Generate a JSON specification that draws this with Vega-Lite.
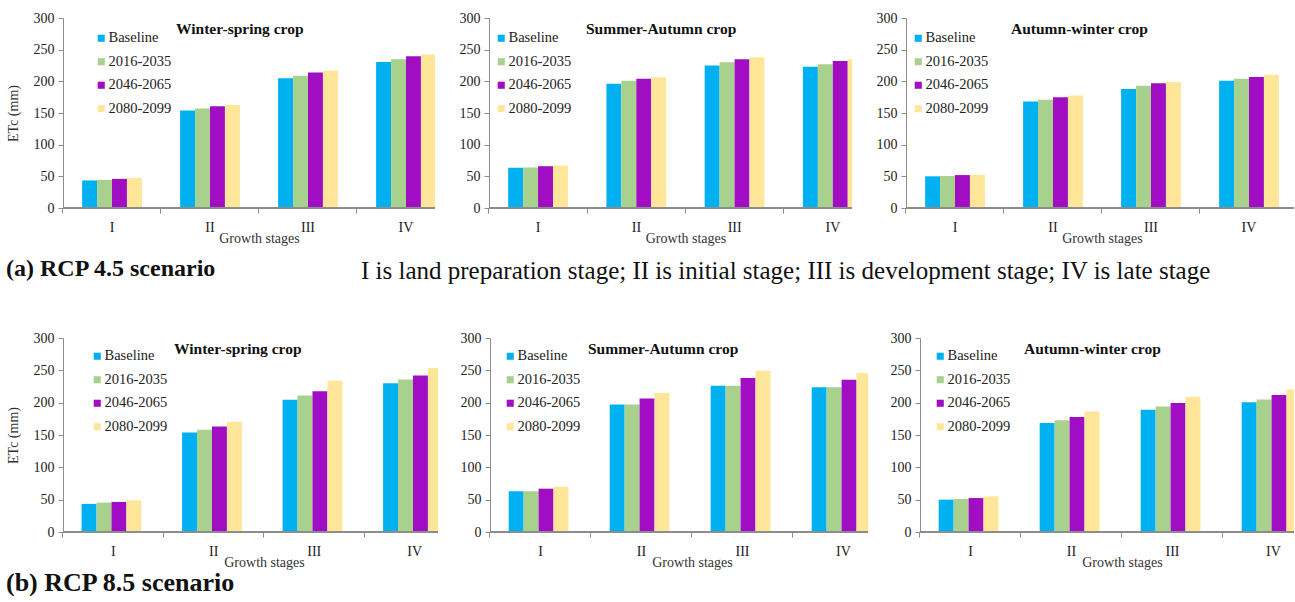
{
  "$schema": "https://vega.github.io/schema/vega-lite/v6.json",
  "padding": {"left": 6, "top": 11, "right": 0, "bottom": 0},
  "background": "white",
  "config": {
    "font": "Liberation Serif",
    "view": {"stroke": null},
    "axis": {"labelFont": "Liberation Serif", "titleFont": "Liberation Serif", "labelFontSize": 14, "titleFontSize": 14, "titleFontWeight": "normal", "labelColor": "#222", "titleColor": "#333", "grid": false, "domainColor": "#8c8c8c", "tickColor": "#8c8c8c"},
    "legend": {"orient": "none", "title": null, "padding": 0, "symbolType": "square", "symbolSize": 50, "symbolStrokeWidth": 0, "labelFont": "Liberation Serif", "labelFontSize": 14.5, "labelColor": "#222", "rowPadding": 8.5, "labelOffset": 0},
    "title": {"font": "Liberation Serif", "fontSize": 15.5, "fontWeight": "bold", "color": "#111"}
  },
  "datasets": {
    "d45": [
      {"crop": "Winter-spring", "stage": "I", "period": "Baseline", "etc": 43.5},
      {"crop": "Winter-spring", "stage": "I", "period": "2016-2035", "etc": 44.5},
      {"crop": "Winter-spring", "stage": "I", "period": "2046-2065", "etc": 46},
      {"crop": "Winter-spring", "stage": "I", "period": "2080-2099", "etc": 47.5},
      {"crop": "Winter-spring", "stage": "II", "period": "Baseline", "etc": 154},
      {"crop": "Winter-spring", "stage": "II", "period": "2016-2035", "etc": 157},
      {"crop": "Winter-spring", "stage": "II", "period": "2046-2065", "etc": 160.5},
      {"crop": "Winter-spring", "stage": "II", "period": "2080-2099", "etc": 162.5},
      {"crop": "Winter-spring", "stage": "III", "period": "Baseline", "etc": 205},
      {"crop": "Winter-spring", "stage": "III", "period": "2016-2035", "etc": 209},
      {"crop": "Winter-spring", "stage": "III", "period": "2046-2065", "etc": 214},
      {"crop": "Winter-spring", "stage": "III", "period": "2080-2099", "etc": 217},
      {"crop": "Winter-spring", "stage": "IV", "period": "Baseline", "etc": 230.5},
      {"crop": "Winter-spring", "stage": "IV", "period": "2016-2035", "etc": 235},
      {"crop": "Winter-spring", "stage": "IV", "period": "2046-2065", "etc": 239.5},
      {"crop": "Winter-spring", "stage": "IV", "period": "2080-2099", "etc": 242.5},
      {"crop": "Summer-Autumn", "stage": "I", "period": "Baseline", "etc": 63.5},
      {"crop": "Summer-Autumn", "stage": "I", "period": "2016-2035", "etc": 64},
      {"crop": "Summer-Autumn", "stage": "I", "period": "2046-2065", "etc": 66},
      {"crop": "Summer-Autumn", "stage": "I", "period": "2080-2099", "etc": 67},
      {"crop": "Summer-Autumn", "stage": "II", "period": "Baseline", "etc": 196},
      {"crop": "Summer-Autumn", "stage": "II", "period": "2016-2035", "etc": 201},
      {"crop": "Summer-Autumn", "stage": "II", "period": "2046-2065", "etc": 204},
      {"crop": "Summer-Autumn", "stage": "II", "period": "2080-2099", "etc": 206.5},
      {"crop": "Summer-Autumn", "stage": "III", "period": "Baseline", "etc": 225},
      {"crop": "Summer-Autumn", "stage": "III", "period": "2016-2035", "etc": 230},
      {"crop": "Summer-Autumn", "stage": "III", "period": "2046-2065", "etc": 235},
      {"crop": "Summer-Autumn", "stage": "III", "period": "2080-2099", "etc": 238},
      {"crop": "Summer-Autumn", "stage": "IV", "period": "Baseline", "etc": 223},
      {"crop": "Summer-Autumn", "stage": "IV", "period": "2016-2035", "etc": 227},
      {"crop": "Summer-Autumn", "stage": "IV", "period": "2046-2065", "etc": 232},
      {"crop": "Summer-Autumn", "stage": "IV", "period": "2080-2099", "etc": 235},
      {"crop": "Autumn-winter", "stage": "I", "period": "Baseline", "etc": 50},
      {"crop": "Autumn-winter", "stage": "I", "period": "2016-2035", "etc": 50.5},
      {"crop": "Autumn-winter", "stage": "I", "period": "2046-2065", "etc": 52},
      {"crop": "Autumn-winter", "stage": "I", "period": "2080-2099", "etc": 52.5},
      {"crop": "Autumn-winter", "stage": "II", "period": "Baseline", "etc": 168},
      {"crop": "Autumn-winter", "stage": "II", "period": "2016-2035", "etc": 171},
      {"crop": "Autumn-winter", "stage": "II", "period": "2046-2065", "etc": 175},
      {"crop": "Autumn-winter", "stage": "II", "period": "2080-2099", "etc": 177.5},
      {"crop": "Autumn-winter", "stage": "III", "period": "Baseline", "etc": 188},
      {"crop": "Autumn-winter", "stage": "III", "period": "2016-2035", "etc": 193},
      {"crop": "Autumn-winter", "stage": "III", "period": "2046-2065", "etc": 197},
      {"crop": "Autumn-winter", "stage": "III", "period": "2080-2099", "etc": 199},
      {"crop": "Autumn-winter", "stage": "IV", "period": "Baseline", "etc": 201},
      {"crop": "Autumn-winter", "stage": "IV", "period": "2016-2035", "etc": 204},
      {"crop": "Autumn-winter", "stage": "IV", "period": "2046-2065", "etc": 207},
      {"crop": "Autumn-winter", "stage": "IV", "period": "2080-2099", "etc": 210.5}
    ],
    "d85": [
      {"crop": "Winter-spring", "stage": "I", "period": "Baseline", "etc": 43.5},
      {"crop": "Winter-spring", "stage": "I", "period": "2016-2035", "etc": 45.5},
      {"crop": "Winter-spring", "stage": "I", "period": "2046-2065", "etc": 46.5},
      {"crop": "Winter-spring", "stage": "I", "period": "2080-2099", "etc": 49},
      {"crop": "Winter-spring", "stage": "II", "period": "Baseline", "etc": 154},
      {"crop": "Winter-spring", "stage": "II", "period": "2016-2035", "etc": 158},
      {"crop": "Winter-spring", "stage": "II", "period": "2046-2065", "etc": 163},
      {"crop": "Winter-spring", "stage": "II", "period": "2080-2099", "etc": 170.5},
      {"crop": "Winter-spring", "stage": "III", "period": "Baseline", "etc": 204.5},
      {"crop": "Winter-spring", "stage": "III", "period": "2016-2035", "etc": 211},
      {"crop": "Winter-spring", "stage": "III", "period": "2046-2065", "etc": 217.5},
      {"crop": "Winter-spring", "stage": "III", "period": "2080-2099", "etc": 234},
      {"crop": "Winter-spring", "stage": "IV", "period": "Baseline", "etc": 230},
      {"crop": "Winter-spring", "stage": "IV", "period": "2016-2035", "etc": 236},
      {"crop": "Winter-spring", "stage": "IV", "period": "2046-2065", "etc": 242},
      {"crop": "Winter-spring", "stage": "IV", "period": "2080-2099", "etc": 253.5},
      {"crop": "Summer-Autumn", "stage": "I", "period": "Baseline", "etc": 63},
      {"crop": "Summer-Autumn", "stage": "I", "period": "2016-2035", "etc": 63},
      {"crop": "Summer-Autumn", "stage": "I", "period": "2046-2065", "etc": 67},
      {"crop": "Summer-Autumn", "stage": "I", "period": "2080-2099", "etc": 70},
      {"crop": "Summer-Autumn", "stage": "II", "period": "Baseline", "etc": 197},
      {"crop": "Summer-Autumn", "stage": "II", "period": "2016-2035", "etc": 197},
      {"crop": "Summer-Autumn", "stage": "II", "period": "2046-2065", "etc": 206.5},
      {"crop": "Summer-Autumn", "stage": "II", "period": "2080-2099", "etc": 215},
      {"crop": "Summer-Autumn", "stage": "III", "period": "Baseline", "etc": 226},
      {"crop": "Summer-Autumn", "stage": "III", "period": "2016-2035", "etc": 226},
      {"crop": "Summer-Autumn", "stage": "III", "period": "2046-2065", "etc": 238},
      {"crop": "Summer-Autumn", "stage": "III", "period": "2080-2099", "etc": 249.5},
      {"crop": "Summer-Autumn", "stage": "IV", "period": "Baseline", "etc": 224},
      {"crop": "Summer-Autumn", "stage": "IV", "period": "2016-2035", "etc": 224},
      {"crop": "Summer-Autumn", "stage": "IV", "period": "2046-2065", "etc": 235.5},
      {"crop": "Summer-Autumn", "stage": "IV", "period": "2080-2099", "etc": 246},
      {"crop": "Autumn-winter", "stage": "I", "period": "Baseline", "etc": 50},
      {"crop": "Autumn-winter", "stage": "I", "period": "2016-2035", "etc": 51},
      {"crop": "Autumn-winter", "stage": "I", "period": "2046-2065", "etc": 52.5},
      {"crop": "Autumn-winter", "stage": "I", "period": "2080-2099", "etc": 55},
      {"crop": "Autumn-winter", "stage": "II", "period": "Baseline", "etc": 168.5},
      {"crop": "Autumn-winter", "stage": "II", "period": "2016-2035", "etc": 173},
      {"crop": "Autumn-winter", "stage": "II", "period": "2046-2065", "etc": 178},
      {"crop": "Autumn-winter", "stage": "II", "period": "2080-2099", "etc": 186.5},
      {"crop": "Autumn-winter", "stage": "III", "period": "Baseline", "etc": 189},
      {"crop": "Autumn-winter", "stage": "III", "period": "2016-2035", "etc": 194},
      {"crop": "Autumn-winter", "stage": "III", "period": "2046-2065", "etc": 199.5},
      {"crop": "Autumn-winter", "stage": "III", "period": "2080-2099", "etc": 209},
      {"crop": "Autumn-winter", "stage": "IV", "period": "Baseline", "etc": 200.5},
      {"crop": "Autumn-winter", "stage": "IV", "period": "2016-2035", "etc": 205},
      {"crop": "Autumn-winter", "stage": "IV", "period": "2046-2065", "etc": 212},
      {"crop": "Autumn-winter", "stage": "IV", "period": "2080-2099", "etc": 220.5}
    ]
  },
  "title": {"text": "(b) RCP 8.5 scenario", "orient": "bottom", "anchor": "start", "fontSize": 26, "fontWeight": "bold", "offset": 1},
  "resolve": {"scale": {"color": "independent", "x": "independent", "y": "independent"}, "legend": {"color": "independent"}},
  "spacing": 47,
  "vconcat": [
    {
      "title": {"text": "I is land preparation stage; II is initial stage; III is development stage; IV is late stage", "orient": "bottom", "anchor": "start", "dx": 355, "fontSize": 25, "fontWeight": "normal", "offset": -22},
      "resolve": {"scale": {"color": "independent", "x": "independent", "y": "independent"}, "legend": {"color": "independent"}},
      "vconcat": [
        {
          "title": {"text": "(a)  RCP 4.5 scenario", "orient": "bottom", "anchor": "start", "fontSize": 24, "fontWeight": "bold", "offset": 12},
          "bounds": "flush",
          "spacing": 54,
          "resolve": {"scale": {"color": "independent", "x": "independent", "y": "independent"}, "legend": {"color": "independent"}},
          "hconcat": [
            {
              "width": 372, "height": 190,
              "data": {"name": "d45"},
              "transform": [{"filter": "datum.crop === 'Winter-spring'"}],
              "title": {"text": "Winter-spring crop", "anchor": "start", "frame": "group", "dx": 113, "dy": 22, "offset": -11, "baseline": "middle"},
              "layer": [
                {"mark": {"type": "bar", "clip": true},
                 "encoding": {
                   "x": {"field": "stage", "type": "nominal", "scale": {"domain": ["I", "II", "III", "IV"], "range": [0, 392], "paddingInner": 0.39, "paddingOuter": 0.195}, "axis": {"title": "Growth stages", "labelAngle": 0, "domain": false, "ticks": true, "tickSize": 5, "bandPosition": -0.32, "labelPadding": 7, "titlePadding": -3}},
                   "xOffset": {"field": "period", "type": "nominal", "scale": {"domain": ["Baseline", "2016-2035", "2046-2065", "2080-2099"], "paddingInner": 0, "paddingOuter": 0}},
                   "y": {"field": "etc", "type": "quantitative", "scale": {"domain": [0, 300]}, "axis": {"values": [0, 50, 100, 150, 200, 250, 300], "title": "ETc (mm)", "tickSize": 5, "labelPadding": 4, "titlePadding": 13}},
                   "color": {"field": "period", "type": "nominal", "scale": {"domain": ["Baseline", "2016-2035", "2046-2065", "2080-2099"], "range": ["#00B0F0", "#A9D18E", "#A10DC2", "#FFE699"]}, "legend": {"orient": "none", "legendX": 31, "legendY": 13, "labelFont": "Liberation Serif"}}
                 }},
                {"mark": {"type": "rule", "color": "#8c8c8c"}, "encoding": {"y": {"datum": 0, "type": "quantitative", "scale": {"domain": [0, 300]}, "axis": {"values": [0, 50, 100, 150, 200, 250, 300], "title": "ETc (mm)", "tickSize": 5, "labelPadding": 4, "titlePadding": 13}}}}
              ]
            },
            {
              "width": 363, "height": 190,
              "data": {"name": "d45"},
              "transform": [{"filter": "datum.crop === 'Summer-Autumn'"}],
              "title": {"text": "Summer-Autumn crop", "anchor": "start", "frame": "group", "dx": 97, "dy": 22, "offset": -11, "baseline": "middle"},
              "layer": [
                {"mark": {"type": "bar", "clip": true},
                 "encoding": {
                   "x": {"field": "stage", "type": "nominal", "scale": {"domain": ["I", "II", "III", "IV"], "range": [0, 393], "paddingInner": 0.39, "paddingOuter": 0.195}, "axis": {"title": "Growth stages", "labelAngle": 0, "domain": false, "ticks": true, "tickSize": 5, "bandPosition": -0.32, "labelPadding": 7, "titlePadding": -3}},
                   "xOffset": {"field": "period", "type": "nominal", "scale": {"domain": ["Baseline", "2016-2035", "2046-2065", "2080-2099"], "paddingInner": 0, "paddingOuter": 0}},
                   "y": {"field": "etc", "type": "quantitative", "scale": {"domain": [0, 300]}, "axis": {"values": [0, 50, 100, 150, 200, 250, 300], "title": null, "tickSize": 5, "labelPadding": 4}},
                   "color": {"field": "period", "type": "nominal", "scale": {"domain": ["Baseline", "2016-2035", "2046-2065", "2080-2099"], "range": ["#00B0F0", "#A9D18E", "#A10DC2", "#FFE699"]}, "legend": {"orient": "none", "legendX": 5, "legendY": 13, "labelFont": "Liberation Serif"}}
                 }},
                {"mark": {"type": "rule", "color": "#8c8c8c"}, "encoding": {"y": {"datum": 0, "type": "quantitative", "scale": {"domain": [0, 300]}, "axis": {"values": [0, 50, 100, 150, 200, 250, 300], "title": null, "tickSize": 5, "labelPadding": 4}}}}
              ]
            },
            {
              "width": 388, "height": 190,
              "data": {"name": "d45"},
              "transform": [{"filter": "datum.crop === 'Autumn-winter'"}],
              "title": {"text": "Autumn-winter crop", "anchor": "start", "frame": "group", "dx": 105, "dy": 22, "offset": -11, "baseline": "middle"},
              "layer": [
                {"mark": {"type": "bar", "clip": true},
                 "encoding": {
                   "x": {"field": "stage", "type": "nominal", "scale": {"domain": ["I", "II", "III", "IV"], "range": [0, 392], "paddingInner": 0.39, "paddingOuter": 0.195}, "axis": {"title": "Growth stages", "labelAngle": 0, "domain": false, "ticks": true, "tickSize": 5, "bandPosition": -0.32, "labelPadding": 7, "titlePadding": -3}},
                   "xOffset": {"field": "period", "type": "nominal", "scale": {"domain": ["Baseline", "2016-2035", "2046-2065", "2080-2099"], "paddingInner": 0, "paddingOuter": 0}},
                   "y": {"field": "etc", "type": "quantitative", "scale": {"domain": [0, 300]}, "axis": {"values": [0, 50, 100, 150, 200, 250, 300], "title": null, "tickSize": 5, "labelPadding": 4}},
                   "color": {"field": "period", "type": "nominal", "scale": {"domain": ["Baseline", "2016-2035", "2046-2065", "2080-2099"], "range": ["#00B0F0", "#A9D18E", "#A10DC2", "#FFE699"]}, "legend": {"orient": "none", "legendX": 5, "legendY": 13, "labelFont": "Liberation Serif"}}
                 }},
                {"mark": {"type": "rule", "color": "#8c8c8c"}, "encoding": {"y": {"datum": 0, "type": "quantitative", "scale": {"domain": [0, 300]}, "axis": {"values": [0, 50, 100, 150, 200, 250, 300], "title": null, "tickSize": 5, "labelPadding": 4}}}}
              ]
            }
          ]
        }
      ]
    },
    {
      "bounds": "flush",
      "spacing": 52,
      "resolve": {"scale": {"color": "independent", "x": "independent", "y": "independent"}, "legend": {"color": "independent"}},
      "hconcat": [
        {
          "width": 375, "height": 194,
          "data": {"name": "d85"},
          "transform": [{"filter": "datum.crop === 'Winter-spring'"}],
          "title": {"text": "Winter-spring crop", "anchor": "start", "frame": "group", "dx": 111, "dy": 22, "offset": -11, "baseline": "middle"},
          "layer": [
            {"mark": {"type": "bar", "clip": true},
             "encoding": {
               "x": {"field": "stage", "type": "nominal", "scale": {"domain": ["I", "II", "III", "IV"], "range": [0, 402], "paddingInner": 0.37, "paddingOuter": 0.185}, "axis": {"title": "Growth stages", "labelAngle": 0, "domain": false, "ticks": true, "tickSize": 5, "bandPosition": -0.294, "labelPadding": 7, "titlePadding": -3}},
               "xOffset": {"field": "period", "type": "nominal", "scale": {"domain": ["Baseline", "2016-2035", "2046-2065", "2080-2099"], "paddingInner": 0, "paddingOuter": 0}},
               "y": {"field": "etc", "type": "quantitative", "scale": {"domain": [0, 300]}, "axis": {"values": [0, 50, 100, 150, 200, 250, 300], "title": "ETc (mm)", "tickSize": 5, "labelPadding": 4, "titlePadding": 13}},
               "color": {"field": "period", "type": "nominal", "scale": {"domain": ["Baseline", "2016-2035", "2046-2065", "2080-2099"], "range": ["#00B0F0", "#A9D18E", "#A10DC2", "#FFE699"]}, "legend": {"orient": "none", "legendX": 27, "legendY": 11, "labelFont": "Liberation Serif"}}
             }},
            {"mark": {"type": "rule", "color": "#8c8c8c"}, "encoding": {"y": {"datum": 0, "type": "quantitative", "scale": {"domain": [0, 300]}, "axis": {"values": [0, 50, 100, 150, 200, 250, 300], "title": "ETc (mm)", "tickSize": 5, "labelPadding": 4, "titlePadding": 13}}}}
          ]
        },
        {
          "width": 378, "height": 194,
          "data": {"name": "d85"},
          "transform": [{"filter": "datum.crop === 'Summer-Autumn'"}],
          "title": {"text": "Summer-Autumn crop", "anchor": "start", "frame": "group", "dx": 98, "dy": 22, "offset": -11, "baseline": "middle"},
          "layer": [
            {"mark": {"type": "bar", "clip": true},
             "encoding": {
               "x": {"field": "stage", "type": "nominal", "scale": {"domain": ["I", "II", "III", "IV"], "range": [0, 404], "paddingInner": 0.37, "paddingOuter": 0.185}, "axis": {"title": "Growth stages", "labelAngle": 0, "domain": false, "ticks": true, "tickSize": 5, "bandPosition": -0.294, "labelPadding": 7, "titlePadding": -3}},
               "xOffset": {"field": "period", "type": "nominal", "scale": {"domain": ["Baseline", "2016-2035", "2046-2065", "2080-2099"], "paddingInner": 0, "paddingOuter": 0}},
               "y": {"field": "etc", "type": "quantitative", "scale": {"domain": [0, 300]}, "axis": {"values": [0, 50, 100, 150, 200, 250, 300], "title": null, "tickSize": 5, "labelPadding": 4}},
               "color": {"field": "period", "type": "nominal", "scale": {"domain": ["Baseline", "2016-2035", "2046-2065", "2080-2099"], "range": ["#00B0F0", "#A9D18E", "#A10DC2", "#FFE699"]}, "legend": {"orient": "none", "legendX": 13, "legendY": 11, "labelFont": "Liberation Serif"}}
             }},
            {"mark": {"type": "rule", "color": "#8c8c8c"}, "encoding": {"y": {"datum": 0, "type": "quantitative", "scale": {"domain": [0, 300]}, "axis": {"values": [0, 50, 100, 150, 200, 250, 300], "title": null, "tickSize": 5, "labelPadding": 4}}}}
          ]
        },
        {
          "width": 374, "height": 194,
          "data": {"name": "d85"},
          "transform": [{"filter": "datum.crop === 'Autumn-winter'"}],
          "title": {"text": "Autumn-winter crop", "anchor": "start", "frame": "group", "dx": 104, "dy": 22, "offset": -11, "baseline": "middle"},
          "layer": [
            {"mark": {"type": "bar", "clip": true},
             "encoding": {
               "x": {"field": "stage", "type": "nominal", "scale": {"domain": ["I", "II", "III", "IV"], "range": [0, 404], "paddingInner": 0.37, "paddingOuter": 0.185}, "axis": {"title": "Growth stages", "labelAngle": 0, "domain": false, "ticks": true, "tickSize": 5, "bandPosition": -0.294, "labelPadding": 7, "titlePadding": -3}},
               "xOffset": {"field": "period", "type": "nominal", "scale": {"domain": ["Baseline", "2016-2035", "2046-2065", "2080-2099"], "paddingInner": 0, "paddingOuter": 0}},
               "y": {"field": "etc", "type": "quantitative", "scale": {"domain": [0, 300]}, "axis": {"values": [0, 50, 100, 150, 200, 250, 300], "title": null, "tickSize": 5, "labelPadding": 4}},
               "color": {"field": "period", "type": "nominal", "scale": {"domain": ["Baseline", "2016-2035", "2046-2065", "2080-2099"], "range": ["#00B0F0", "#A9D18E", "#A10DC2", "#FFE699"]}, "legend": {"orient": "none", "legendX": 13, "legendY": 11, "labelFont": "Liberation Serif"}}
             }},
            {"mark": {"type": "rule", "color": "#8c8c8c"}, "encoding": {"y": {"datum": 0, "type": "quantitative", "scale": {"domain": [0, 300]}, "axis": {"values": [0, 50, 100, 150, 200, 250, 300], "title": null, "tickSize": 5, "labelPadding": 4}}}}
          ]
        }
      ]
    }
  ]
}
